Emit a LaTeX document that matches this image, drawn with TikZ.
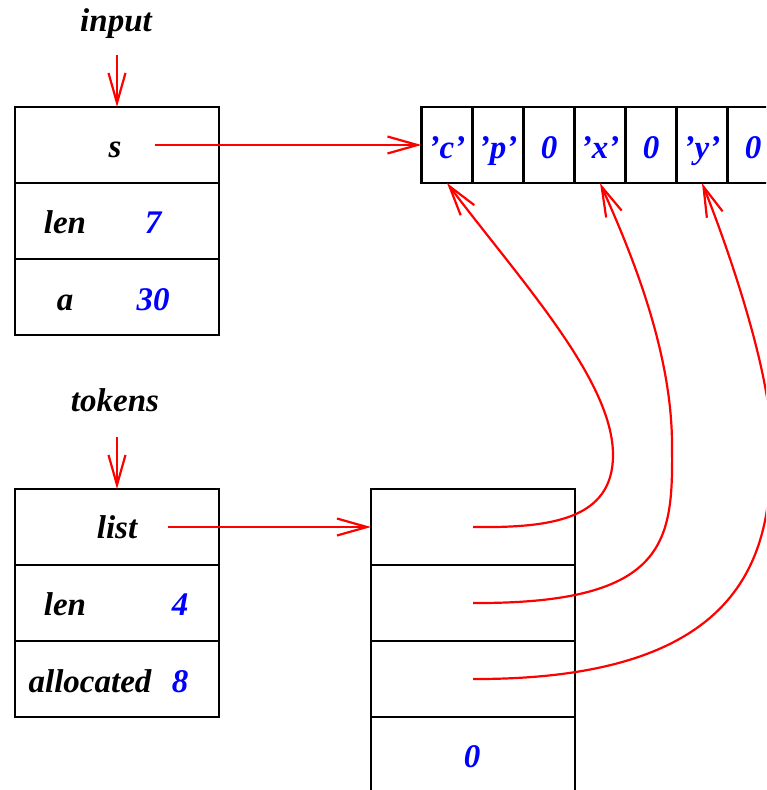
\documentclass[tikz,border=0pt]{standalone}
\usepackage{fontspec}
\setmainfont{Liberation Serif}
\usetikzlibrary{arrows.meta}
\begin{document}
\begin{tikzpicture}[x=1pt,y=-1pt,
  cell/.style={draw=black,line width=2.4pt,minimum width=204pt,minimum height=76pt,inner sep=0pt,outer sep=0pt},
  ccell/.style={draw=black,line width=2.4pt,minimum width=51pt,minimum height=76pt,inner sep=0pt,outer sep=0pt},
  lbl/.style={font=\fontsize{33}{40}\selectfont\bfseries\itshape,inner sep=0pt,anchor=base},
  val/.style={lbl,text=blue},
  ptr/.style={draw=red,line width=2.2pt,-{Straight Barb[length=30pt,width=17pt]}}
]
\useasboundingbox (0,0) rectangle (766,790);
\clip (0,0) rectangle (766,790);

% input struct
\node[cell] (in1) at (117,145) {};
\node[cell] (in2) at (117,221) {};
\node[cell] (in3) at (117,297) {};
% tokens struct
\node[cell] (tk1) at (117,527) {};
\node[cell] (tk2) at (117,603) {};
\node[cell] (tk3) at (117,679) {};
% list array
\node[cell] (ls1) at (473,527) {};
\node[cell] (ls2) at (473,603) {};
\node[cell] (ls3) at (473,679) {};
\node[cell] (ls4) at (473,755) {};
% char array
\foreach \i in {0,...,6} {
  \node[ccell] (ca\i) at ({447+51*\i},145) {};
}

% texts
\node[lbl] (tinput) at (116,31) {input};
\node[lbl] (ts) at (115,157) {s};
\node[lbl] (tlen1) at (65,233) {len};
\node[val] (v7) at (153,233) {7};
\node[lbl] (ta) at (65,310) {a};
\node[val] (v30) at (153,310) {30};

\node[val] (c0) at (447,158) {’c’};
\node[val] (c1) at (498,158) {’p’};
\node[val] (c2) at (549,158) {0};
\node[val] (c3) at (600,158) {’x’};
\node[val] (c4) at (651,158) {0};
\node[val] (c5) at (702,158) {’y’};
\node[val] (c6) at (753,158) {0};

\node[lbl] (ttokens) at (115,411) {tokens};
\node[lbl] (tlist) at (117,538) {list};
\node[lbl] (tlen2) at (65,615) {len};
\node[val] (v4) at (180,615) {4};
\node[lbl] (talloc) at (90,692) {allocated};
\node[val] (v8) at (180,692) {8};
\node[val] (v0) at (472,767) {0};

% pointers
\coordinate (inarr) at (117,55);
\coordinate (tkarr) at (117,437);
\coordinate (sfrom) at (155,145);
\coordinate (lfrom) at (168,527);
\draw[ptr] (inarr) -- (in1.north);
\draw[ptr] (tkarr) -- (tk1.north);
\draw[ptr] (sfrom) -- (ca0.west);
\draw[ptr] (lfrom) -- (ls1.west);

\draw[ptr] (ls1.center) .. controls (550,528) and (613,520) .. (613,455)
  .. controls (613,380) and (520,280) .. (ca0.south);
\draw[ptr] (ls2.center) .. controls (670,604) and (673,540) .. (672,445)
  .. controls (672,350) and (630,250) .. (ca3.south);
\draw[ptr] (ls3.center) .. controls (760,680) and (772,540) .. (771,440)
  .. controls (771,370) and (725,240) .. (ca5.south);
\end{tikzpicture}
\end{document}
